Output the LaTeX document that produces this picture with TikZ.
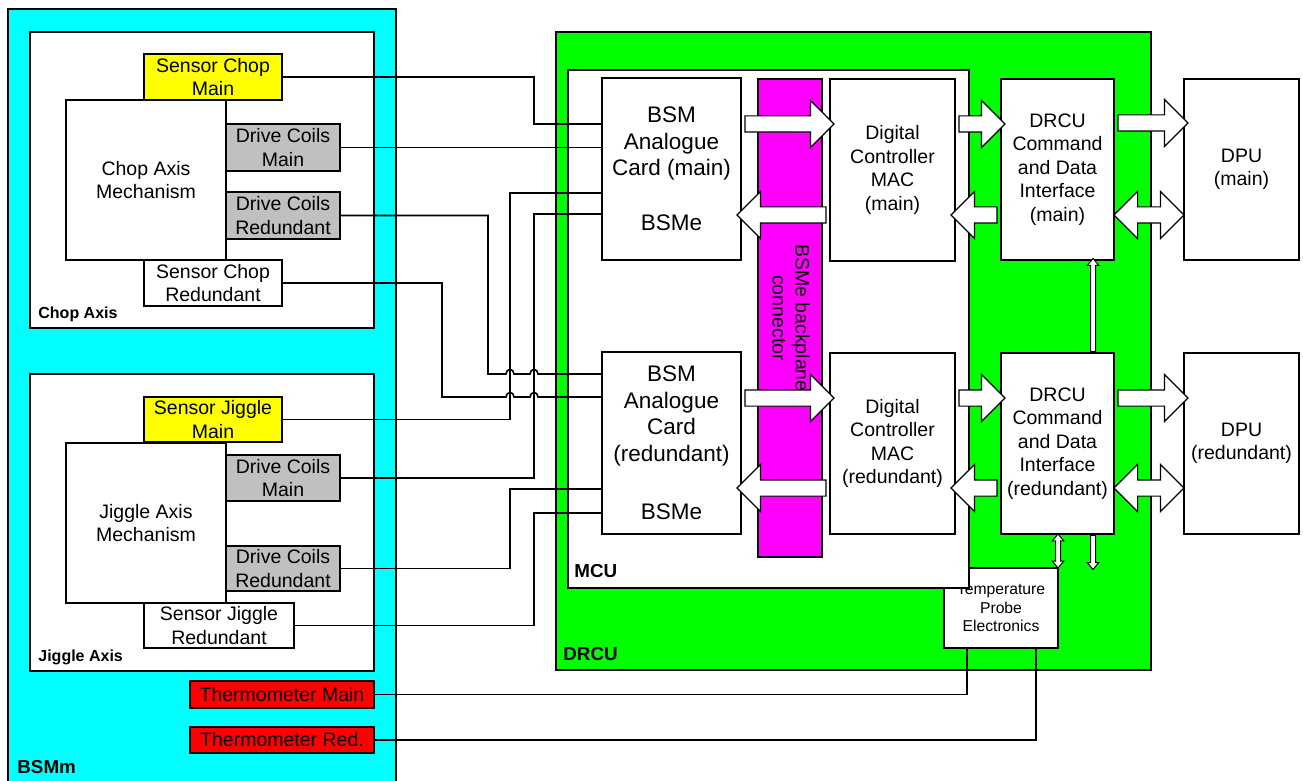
\documentclass[tikz,border=0pt]{standalone}
\usepackage{fontspec}
\setmainfont{Liberation Sans}
\usetikzlibrary{shapes.arrows}
\definecolor{coilgray}{RGB}{192,192,192}
\definecolor{bsmcyan}{RGB}{0,255,255}
\definecolor{drcugreen}{RGB}{0,255,0}
\definecolor{plugmagenta}{RGB}{255,0,255}
\definecolor{sensyellow}{RGB}{255,255,0}
\definecolor{thermred}{RGB}{255,0,0}
\tikzset{
  frame/.style={draw, line width=0.8pt, inner sep=0pt, outer sep=0pt},
  unit/.style={draw, line width=0.8pt, fill=white, align=center, inner sep=1pt, outer sep=0pt,
    font=\fontsize{9.75}{11.75}\selectfont},
  card/.style={unit, font=\fontsize{11.25}{13.25}\selectfont},
  small/.style={unit, font=\fontsize{7.85}{9.25}\selectfont},
  framelabel/.style={anchor=base west, inner sep=0pt, font=\bfseries\fontsize{9.4}{11}\selectfont},
  axislabel/.style={framelabel, font=\bfseries\fontsize{8}{9.5}\selectfont},
  wire/.style={line width=0.8pt},
  bigarrow/.style={single arrow, draw, fill=white, line width=0.6pt, single arrow tip angle=90,
    single arrow head extend=7.75pt, minimum width=23pt, inner xsep=0pt, inner ysep=3.75pt, outer sep=0pt},
  bigdarrow/.style={double arrow, draw, fill=white, line width=0.6pt, double arrow tip angle=90,
    double arrow head extend=7.75pt, minimum width=23pt, inner xsep=0pt, inner ysep=3.75pt, outer sep=0pt},
  thinarrow/.style={single arrow, draw, fill=white, line width=0.5pt, single arrow tip angle=80,
    single arrow head extend=1.6pt, minimum width=5.2pt, inner xsep=0pt, inner ysep=1pt, outer sep=0pt},
  thindarrow/.style={double arrow, draw, fill=white, line width=0.5pt, double arrow tip angle=80,
    double arrow head extend=1.6pt, minimum width=5.2pt, inner xsep=0pt, inner ysep=1pt, outer sep=0pt}
}
\begin{document}
\begin{tikzpicture}[x=0.5pt, y=-0.5pt]
  \useasboundingbox (0,0) rectangle (1303,781);

  % BSMm side
  \node[frame, fill=bsmcyan, minimum width=194pt, minimum height=395.5pt] (bsmm) at (202,404.5) {};
  \node[frame, fill=white, minimum width=172pt, minimum height=148pt] (chop) at (202,180) {};
  \node[frame, fill=white, minimum width=172pt, minimum height=148.5pt] (jiggle) at (202,522.5) {};
  \node[framelabel] (bsmmlbl) at (17,773) {BSMm};
  \node[axislabel] (choplbl) at (38,318) {Chop Axis};
  \node[axislabel] (jigglelbl) at (38,661) {Jiggle Axis};

  \node[unit, fill=sensyellow, minimum width=69pt, minimum height=23pt] (scm) at (213,77) {Sensor Chop\\Main};
  \node[unit, minimum width=80pt, minimum height=80pt] (chopmech) at (146,180) {Chop Axis\\Mechanism};
  \node[unit, fill=coilgray, minimum width=57pt, minimum height=23.5pt] (dcmc) at (283,147.5) {Drive Coils\\Main};
  \node[unit, fill=coilgray, minimum width=57pt, minimum height=23.5pt] (dcrc) at (283,215.5) {Drive Coils\\Redundant};
  \node[unit, minimum width=69pt, minimum height=23pt] (scr) at (213,283) {Sensor Chop\\Redundant};

  \node[unit, fill=sensyellow, minimum width=69pt, minimum height=22.5pt] (sjm) at (213,419.5) {Sensor Jiggle\\Main};
  \node[unit, minimum width=80pt, minimum height=80pt] (jigmech) at (146,523) {Jiggle Axis\\Mechanism};
  \node[unit, fill=coilgray, minimum width=57pt, minimum height=23pt] (dcmj) at (283,478) {Drive Coils\\Main};
  \node[unit, fill=coilgray, minimum width=57pt, minimum height=22.5pt] (dcrj) at (283,568.5) {Drive Coils\\Redundant};
  \node[unit, minimum width=75pt, minimum height=22.5pt] (sjr) at (219,625.5) {Sensor Jiggle\\Redundant};

  \node[unit, fill=thermred, minimum width=92pt, minimum height=13.5pt] (thm) at (282,694.5) {Thermometer Main};
  \node[unit, fill=thermred, minimum width=92pt, minimum height=13pt] (thr) at (282,740) {Thermometer Red.};

  % DRCU side
  \node[frame, fill=drcugreen, minimum width=297.5pt, minimum height=319pt] (drcu) at (853.5,351) {};
  \node[small, minimum width=57pt, minimum height=40pt] (probe) at (1001,608) {Temperature\\Probe\\Electronics};
  \node[frame, fill=white, minimum width=200.5pt, minimum height=259pt] (mcu) at (768.5,329) {};
  \node[framelabel] (mculbl) at (574,577) {MCU};
  \node[framelabel] (drculbl) at (563,660) {DRCU};

  \node[card, minimum width=69.5pt, minimum height=91pt] (bsma) at (671.5,169) {BSM\\Analogue\\Card (main)\\[14pt]BSMe};
  \node[card, minimum width=69.5pt, minimum height=91pt] (bsmb) at (671.5,443) {BSM\\Analogue\\Card\\(redundant)\\[16pt]BSMe};
  \node[frame, fill=plugmagenta, minimum width=32pt, minimum height=239pt] (bp) at (790,318) {};
  \node[rotate=-90, align=center, inner sep=0pt, font=\fontsize{9.75}{11.5}\selectfont] (bplbl) at (791,318) {BSMe backplane\\connector};
  \node[unit, minimum width=62.5pt, minimum height=91pt] (dca) at (892.5,170) {Digital\\Controller\\MAC\\(main)};
  \node[unit, minimum width=62.5pt, minimum height=90.5pt] (dcb) at (892.5,443.5) {Digital\\Controller\\MAC\\(redundant)};

  \node[unit, minimum width=56.5pt, minimum height=90.5pt] (cdia) at (1057.5,169.5) {DRCU\\Command\\and Data\\Interface\\(main)};
  \node[unit, minimum width=56.5pt, minimum height=90.5pt] (cdib) at (1057.5,443.5) {DRCU\\Command\\and Data\\Interface\\(redundant)};

  \node[unit, minimum width=57.5pt, minimum height=90.5pt] (dpua) at (1241.5,169.5) {DPU\\(main)};
  \node[unit, minimum width=57.5pt, minimum height=90.5pt] (dpub) at (1241.5,443.5) {DPU\\(redundant)};

  % harness wires
  \draw[wire] (scm.east) -| (534,124) -- (bsma.west |- 0,124);
  \draw[wire] (dcmc.east) -- (bsma.west |- dcmc.east);
  \draw[wire] (sjm.east) -| (510,193) -- (bsma.west |- 0,193);
  \draw[wire] (dcmj.east) -| (534,214) -- (bsma.west |- 0,214);
  \draw[wire] (dcrc.east) -| (488,374) -- (506,374) .. controls (506,368) and (514,368) .. (514,374)
    -- (530,374) .. controls (530,368) and (538,368) .. (538,374) -- (bsmb.west |- 0,374);
  \draw[wire] (scr.east) -| (442,397) -- (506,397) .. controls (506,391) and (514,391) .. (514,397)
    -- (530,397) .. controls (530,391) and (538,391) .. (538,397) -- (bsmb.west |- 0,397);
  \draw[wire] (dcrj.east) -| (510,489) -- (bsmb.west |- 0,489);
  \draw[wire] (sjr.east) -| (534,513) -- (bsmb.west |- 0,513);
  \draw[wire] (thm.east) -| (probe.south -| 967,0);
  \draw[wire] (thr.east) -| (probe.south -| 1036,0);

  % data paths
  \node[bigarrow, minimum height=44.5pt] (a1) at (785.5,124) {};
  \node[bigarrow, minimum height=44.5pt, rotate=180] (a2) at (785.5,215) {};
  \node[bigarrow, minimum height=23pt] (a3) at (978,124) {};
  \node[bigarrow, minimum height=23pt, rotate=180] (a4) at (978,215) {};
  \node[bigarrow, minimum height=44.5pt] (a5) at (785.5,398) {};
  \node[bigarrow, minimum height=44.5pt, rotate=180] (a6) at (785.5,488) {};
  \node[bigarrow, minimum height=23pt] (a7) at (978,398) {};
  \node[bigarrow, minimum height=23pt, rotate=180] (a8) at (978,488) {};
  \node[bigarrow, minimum height=35pt] (a9) at (1149,123) {};
  \node[bigdarrow, minimum height=35pt] (a10) at (1149,215) {};
  \node[bigarrow, minimum height=35pt] (a11) at (1149,398) {};
  \node[bigdarrow, minimum height=35pt] (a12) at (1149,488) {};

  \node[thinarrow, minimum height=46.5pt, rotate=90] (t1) at (1093,306.5) {};
  \node[thindarrow, minimum height=17pt, rotate=90] (t2) at (1058,551) {};
  \node[thinarrow, minimum height=17pt, rotate=-90] (t3) at (1093,551) {};
\end{tikzpicture}
\end{document}
